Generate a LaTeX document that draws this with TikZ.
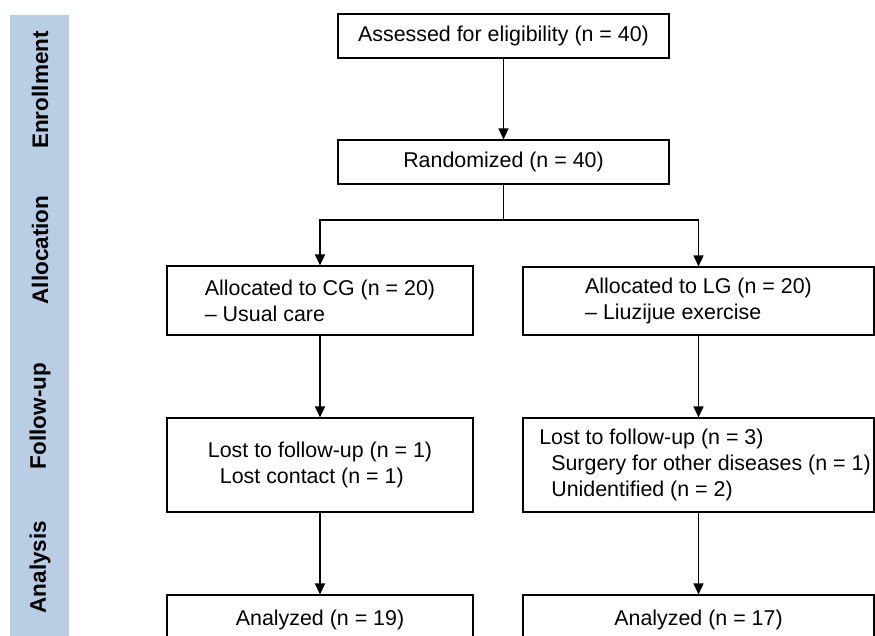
\documentclass[tikz,border=0pt]{standalone}
\usepackage{fontspec}
\setmainfont{Liberation Sans}
\usetikzlibrary{arrows.meta}
\definecolor{bandblue}{RGB}{185,205,229}
\begin{document}
\begin{tikzpicture}[x=1pt,y=-1pt,
  box/.style={draw=black,line width=1.1pt,rectangle,inner sep=0pt,
    font=\fontsize{21.4}{26}\selectfont},
  arr/.style={line width=1.1pt,-{Triangle[width=10pt,length=11pt]}},
  conn/.style={line width=1.1pt},
  phase/.style={rotate=90,font=\bfseries\fontsize{22.5}{24}\selectfont}]
\clip (0,0) rectangle (875,635);
\fill[bandblue] (10,15) rectangle (69,640);
\node[phase] (ph1) at (40,90) {Enrollment};
\node[phase] (ph2) at (40,250) {Allocation};
\node[phase] (ph3) at (40,416) {Follow-up};
\node[phase] (ph4) at (40,567) {Analysis};

\node[box,minimum width=331pt,minimum height=44pt] (assess) at (503.5,36) {Assessed for eligibility (n = 40)};
\node[box,minimum width=331pt,minimum height=44pt] (rand) at (503.5,162) {Randomized (n = 40)};
\node[box,minimum width=306pt,minimum height=69pt,align=left] (cg) at (320,300.5) {Allocated to CG (n = 20)\\– Usual care};
\node[box,minimum width=351pt,minimum height=68pt,align=left] (lg) at (698.5,301) {Allocated to LG (n = 20)\\– Liuzijue exercise};
\node[box,minimum width=306pt,minimum height=94pt,align=left] (cgfu) at (320,465) {Lost to follow-up (n = 1)\\\hspace*{12pt}Lost contact (n = 1)};
\node[box,minimum width=351pt,minimum height=94pt,align=left] (lgfu) at (698.5,465) {\hspace*{13pt}Lost to follow-up (n = 3)\\\hspace*{25pt}Surgery for other diseases (n = 1)\\\hspace*{25pt}Unidentified (n = 2)};
\node[box,minimum width=306pt,minimum height=50pt] (cgan) at (320,620) {Analyzed (n = 19)};
\node[box,minimum width=351pt,minimum height=50pt] (lgan) at (698.5,620) {Analyzed (n = 17)};

\coordinate (sp) at (503.5,220);
\draw[arr] (assess) -- (rand);
\draw[conn] (rand.south) -- (sp);
\draw[arr] (sp) -| (cg.north);
\draw[arr] (sp) -| (lg.north);
\draw[arr] (cg) -- (cgfu);
\draw[arr] (lg) -- (lgfu);
\draw[arr] (cgfu) -- (cgan);
\draw[arr] (lgfu) -- (lgan);
\end{tikzpicture}
\end{document}
